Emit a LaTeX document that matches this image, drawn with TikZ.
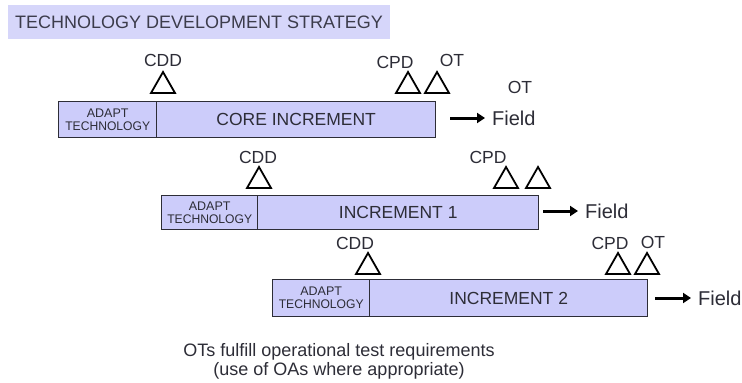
\documentclass[tikz,border=0pt]{standalone}
\usepackage{fontspec}
\setmainfont{Liberation Sans}
\usetikzlibrary{arrows.meta}
\definecolor{barfill}{RGB}{204,204,250}
\definecolor{titlefill}{RGB}{214,214,250}
\definecolor{ink}{RGB}{45,45,55}
\tikzset{
  barbox/.style={draw=ink, line width=1.4pt, fill=barfill, inner sep=0pt, anchor=north west, text=ink},
  adaptbox/.style={barbox, font=\fontsize{12.5}{14}\selectfont, align=center},
  incbox/.style={barbox, font=\fontsize{17.5}{17.5}\selectfont},
  lbl/.style={text=ink, inner sep=0pt, font=\fontsize{17.5}{17.5}\selectfont},
  fieldlbl/.style={lbl, anchor=west, font=\fontsize{20}{20}\selectfont},
  milestone/.style={draw=black, line width=1.8pt, line join=miter},
  fieldarrow/.style={draw=black, line width=3pt, shorten >=7pt, -{Triangle[length=8pt,width=10pt]}},
}
\newcommand{\adapttext}{ADAPT\\[-1pt]\scalebox{0.97}[1]{TECHNOLOGY}}
\begin{document}
\begin{tikzpicture}[x=1pt,y=-1pt]
\useasboundingbox (0,0) rectangle (742,383);
\fill[white] (0,0) rectangle (742,383);
% title
\node[fill=titlefill, minimum width=382, minimum height=34, anchor=north west, inner sep=0pt] (titlebg) at (8,5) {};
\node[lbl, anchor=west, font=\fontsize{18}{18}\selectfont, text={rgb,255:red,60;green,60;blue,75}] (title) at (15,22) {TECHNOLOGY DEVELOPMENT STRATEGY};

% row 1
\node[adaptbox, minimum width=98, minimum height=36] (a1) at (58,101) {\adapttext};
\node[incbox, minimum width=279, minimum height=36] (c1) at (156,101) {CORE INCREMENT};
\draw[milestone] (163,72) -- (151,93) -- (175,93) -- cycle;
\draw[milestone] (408,72) -- (396,93) -- (420,93) -- cycle;
\draw[milestone] (437,72) -- (425,93) -- (449,93) -- cycle;
\node[lbl] (cdd1) at (163,60) {CDD};
\node[lbl] (cpd1) at (395,62) {CPD};
\node[lbl] (ot1) at (452,60) {OT};
\node[lbl] (ot1b) at (520,87) {OT};
\node[fieldlbl] (f1) at (492,118) {Field};
\coordinate (s1) at (450,118);
\draw[fieldarrow] (s1) -- (f1.west);

% row 2
\node[adaptbox, minimum width=96, minimum height=34] (a2) at (161,195) {\adapttext};
\node[incbox, minimum width=281, minimum height=34] (c2) at (257,195) {INCREMENT 1};
\draw[milestone] (259,167) -- (247,188) -- (271,188) -- cycle;
\draw[milestone] (506,167) -- (494,188) -- (518,188) -- cycle;
\draw[milestone] (538,167) -- (526,188) -- (550,188) -- cycle;
\node[lbl] (cdd2) at (258,157) {CDD};
\node[lbl] (cpd2) at (488,157) {CPD};
\node[fieldlbl] (f2) at (585,211) {Field};
\coordinate (s2) at (543,211);
\draw[fieldarrow] (s2) -- (f2.west);

% row 3
\node[adaptbox, minimum width=97, minimum height=37] (a3) at (272,279) {\adapttext};
\node[incbox, minimum width=278, minimum height=37] (c3) at (369,279) {INCREMENT 2};
\draw[milestone] (368,253) -- (356,274) -- (380,274) -- cycle;
\draw[milestone] (618,253) -- (606,274) -- (630,274) -- cycle;
\draw[milestone] (647,253) -- (635,274) -- (659,274) -- cycle;
\node[lbl] (cdd3) at (355,243) {CDD};
\node[lbl] (cpd3) at (610,243) {CPD};
\node[lbl] (ot3) at (653,242) {OT};
\node[fieldlbl] (f3) at (698,298) {Field};
\coordinate (s3) at (655,298);
\draw[fieldarrow] (s3) -- (f3.west);

% note
\node[lbl, align=center, font=\fontsize{18}{19}\selectfont] (note) at (339,361) {OTs fulfill operational test requirements\\(use of OAs where appropriate)};
\end{tikzpicture}
\end{document}
